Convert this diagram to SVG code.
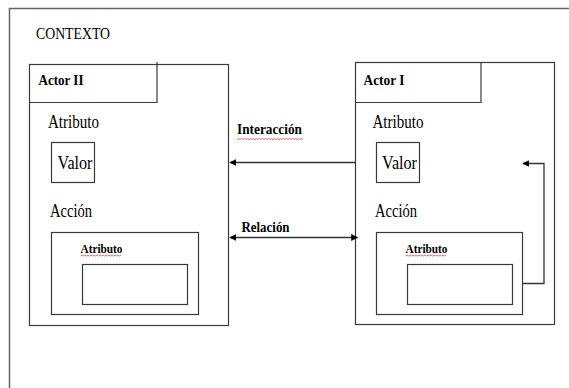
<svg xmlns="http://www.w3.org/2000/svg" width="569" height="388" viewBox="0 0 569 388">
<defs>
<style>
.frame{fill:none;stroke:#666;stroke-width:1.5}
.box{fill:none;stroke:#3a3a3a;stroke-width:1.2}
.t{font-family:"Liberation Serif","DejaVu Serif",serif;fill:#000}
.b{font-weight:bold}
.conn{fill:none;stroke:#333;stroke-width:1.3}
.wavy{fill:none;stroke:#e04040;stroke-width:0.8}
</style>
<marker id="ah" viewBox="0 0 10 10" refX="9" refY="5" markerWidth="7" markerHeight="7" markerUnits="userSpaceOnUse" orient="auto-start-reverse">
<path d="M0,0 L10,5 L0,10 Z" fill="#000"/>
</marker>
</defs>
<rect width="569" height="388" fill="#fff"/>
<g id="contexto">
<path class="frame" d="M9.5,388 V8.5 H569"/>
<text class="t" x="36" y="39" font-size="17" textLength="74" lengthAdjust="spacingAndGlyphs">CONTEXTO</text>
</g>
<g id="actor2">
<rect class="box" x="29.5" y="64.5" width="199" height="261"/>
<path class="box" d="M29.5,102.5 H157 V62"/>
<text class="t b" x="38.5" y="85" font-size="15" textLength="45" lengthAdjust="spacingAndGlyphs">Actor II</text>
<text class="t" x="48" y="128" font-size="18" textLength="51" lengthAdjust="spacingAndGlyphs">Atributo</text>
<rect class="box" x="51.5" y="142.5" width="43" height="40"/>
<text class="t" x="57.5" y="168.5" font-size="19" textLength="35" lengthAdjust="spacingAndGlyphs">Valor</text>
<text class="t" x="50" y="216.5" font-size="18" textLength="42" lengthAdjust="spacingAndGlyphs">Acción</text>
<rect class="box" x="51.5" y="232.5" width="147" height="82"/>
<text class="t b" x="80.5" y="252.5" font-size="13" textLength="42" lengthAdjust="spacingAndGlyphs">Atributo</text>
<path class="wavy" d="M80.5,256 l1.5,-1 l1.5,1 l1.5,-1 l1.5,1 l1.5,-1 l1.5,1 l1.5,-1 l1.5,1 l1.5,-1 l1.5,1 l1.5,-1 l1.5,1 l1.5,-1 l1.5,1 l1.5,-1 l1.5,1 l1.5,-1 l1.5,1 l1.5,-1 l1.5,1 l1.5,-1 l1.5,1 l1.5,-1 l1.5,1 l1.5,-1 l1.5,1 l1.5,-1"/>
<rect class="box" x="82.5" y="264.5" width="105" height="40"/>
</g>
<g id="actor1">
<rect class="box" x="355.5" y="62.5" width="199" height="262"/>
<path class="box" d="M355.5,102.5 H481 V62.5"/>
<text class="t b" x="363.5" y="85" font-size="15" textLength="41" lengthAdjust="spacingAndGlyphs">Actor I</text>
<text class="t" x="372.5" y="128" font-size="18" textLength="51" lengthAdjust="spacingAndGlyphs">Atributo</text>
<rect class="box" x="376.5" y="142.5" width="43" height="40"/>
<text class="t" x="382" y="168.5" font-size="19" textLength="35" lengthAdjust="spacingAndGlyphs">Valor</text>
<text class="t" x="375" y="216.5" font-size="18" textLength="42" lengthAdjust="spacingAndGlyphs">Acción</text>
<rect class="box" x="376.5" y="232.5" width="146" height="82"/>
<text class="t b" x="405.5" y="252.5" font-size="13" textLength="42" lengthAdjust="spacingAndGlyphs">Atributo</text>
<path class="wavy" d="M405.5,256 l1.5,-1 l1.5,1 l1.5,-1 l1.5,1 l1.5,-1 l1.5,1 l1.5,-1 l1.5,1 l1.5,-1 l1.5,1 l1.5,-1 l1.5,1 l1.5,-1 l1.5,1 l1.5,-1 l1.5,1 l1.5,-1 l1.5,1 l1.5,-1 l1.5,1 l1.5,-1 l1.5,1 l1.5,-1 l1.5,1 l1.5,-1 l1.5,1 l1.5,-1"/>
<rect class="box" x="407.5" y="264.5" width="105" height="40"/>
</g>
<g id="connectors">
<path class="conn" d="M355.5,162.5 H230" marker-end="url(#ah)"/>
<text class="t b" x="237" y="134" font-size="15" textLength="65" lengthAdjust="spacingAndGlyphs">Interacción</text>
<path class="wavy" d="M237,139.5 l1.5,-1 l1.5,1 l1.5,-1 l1.5,1 l1.5,-1 l1.5,1 l1.5,-1 l1.5,1 l1.5,-1 l1.5,1 l1.5,-1 l1.5,1 l1.5,-1 l1.5,1 l1.5,-1 l1.5,1 l1.5,-1 l1.5,1 l1.5,-1 l1.5,1 l1.5,-1 l1.5,1 l1.5,-1 l1.5,1 l1.5,-1 l1.5,1 l1.5,-1 l1.5,1 l1.5,-1 l1.5,1 l1.5,-1 l1.5,1 l1.5,-1 l1.5,1 l1.5,-1 l1.5,1 l1.5,-1 l1.5,1 l1.5,-1 l1.5,1 l1.5,-1 l1.5,1 l1.5,-1 l1.5,1"/>
<path class="conn" d="M230,237.5 H357.5" marker-start="url(#ah)" marker-end="url(#ah)"/>
<text class="t b" x="241.5" y="232" font-size="15" textLength="48" lengthAdjust="spacingAndGlyphs">Relación</text>
<path class="conn" d="M522.5,283.5 H544 V163.5 H523" marker-end="url(#ah)"/>
</g>
</svg>
